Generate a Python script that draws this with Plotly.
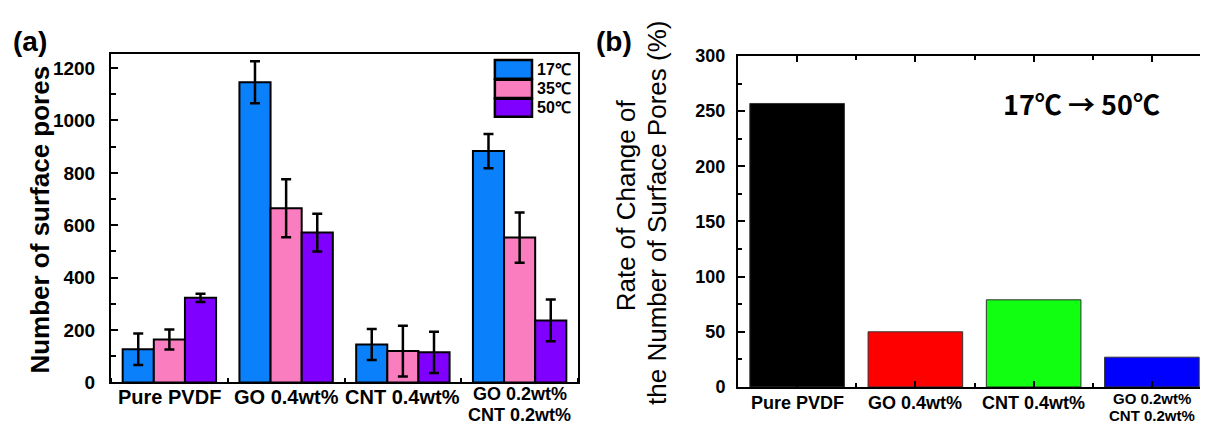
import plotly.graph_objects as go

# ---------------- data ----------------
categories = ["Pure PVDF", "GO 0.4wt%", "CNT 0.4wt%", "GO 0.2wt%<br>CNT 0.2wt%"]
temps = ["17℃", "35℃", "50℃"]
pores_17 = [127, 1146, 145, 883]
pores_35 = [164, 665, 120, 553]
pores_50 = [323, 572, 115, 237]
err_17 = [60, 80, 59, 65]
err_35 = [38, 111, 97, 96]
err_50 = [16, 72, 79, 80]
rate_change = [257, 50, 79, 27]

a_colors = ["#0A80FA", "#FA7EBF", "#8000FF"]
b_colors = ["#000000", "#FF0000", "#11FF11", "#0000FF"]

y_a_ticks = [0, 200, 400, 600, 800, 1000, 1200]
y_b_ticks = [0, 50, 100, 150, 200, 250, 300]

FONT = "Arial, Liberation Sans, sans-serif"
W, H = 1208, 428
xpos = list(range(len(categories)))

fig = go.Figure()

series = [pores_17, pores_35, pores_50]
errs = [err_17, err_35, err_50]
for name, vals, er, col in zip(temps, series, errs, a_colors):
    fig.add_trace(go.Bar(
        x=xpos, y=vals, name=name, xaxis="x", yaxis="y",
        marker=dict(color=col, line=dict(color="black", width=2)),
        error_y=dict(type="data", array=er, color="black", thickness=2.5, width=5),
        showlegend=False,
    ))

fig.add_trace(go.Bar(
    x=xpos, y=rate_change, xaxis="x2", yaxis="y2", width=0.8,
    marker=dict(color=b_colors, line=dict(color="#333333", width=1)),
    showlegend=False,
))

common_axis = dict(showgrid=False, zeroline=False, showline=True, linecolor="black",
                   linewidth=2)

fig.update_layout(
    width=W, height=H,
    margin=dict(l=0, r=0, t=0, b=0),
    paper_bgcolor="white", plot_bgcolor="white",
    barmode="group", bargap=0.2, bargroupgap=0,
    font=dict(family=FONT, color="black"),
    xaxis=dict(
        domain=[103/W, 570/W], anchor="y", range=[-0.5, 3.5],
        tickmode="array", tickvals=xpos, showticklabels=False, ticks="",
        minor=dict(tickmode="linear", tick0=0.5, dtick=1, ticks="inside", ticklen=4,
                   tickwidth=2, tickcolor="black"),
        mirror=True, **common_axis,
    ),
    yaxis=dict(
        domain=[1-383.3/H, 1-38.3/H], anchor="x", range=[0, 1252],
        tickmode="array", tickvals=y_a_ticks,
        ticks="inside", ticklen=7, tickwidth=2, tickcolor="black",
        ticklabelstandoff=10,
        tickfont=dict(family=FONT, size=19, weight="bold", color="black"),
        minor=dict(tickmode="linear", tick0=0, dtick=100, ticks="inside", ticklen=5,
                   tickwidth=2, tickcolor="black"),
        mirror=True, **common_axis,
    ),
    xaxis2=dict(
        domain=[730/W, 1203/W], anchor="y2", range=[-0.5, 3.5],
        tickmode="array", tickvals=xpos, showticklabels=False,
        ticks="inside", ticklen=6, tickwidth=2, tickcolor="black",
        minor=dict(tickmode="linear", tick0=0.5, dtick=1, ticks="inside", ticklen=4,
                   tickwidth=2, tickcolor="black"),
        mirror="allticks", **common_axis,
    ),
    yaxis2=dict(
        domain=[1-388/H, 1-40/H], anchor="x2", range=[0, 300],
        tickmode="array", tickvals=y_b_ticks,
        ticks="inside", ticklen=7, tickwidth=2, tickcolor="black",
        ticklabelstandoff=7,
        tickfont=dict(family=FONT, size=18, weight="bold", color="black"),
        minor=dict(tickmode="linear", tick0=0, dtick=25, ticks="inside", ticklen=4,
                   tickwidth=2, tickcolor="black"),
        mirror="allticks", **common_axis,
    ),
)

# category labels: single-line labels at full size; two-line label stacked tightly
# (size1, y1) for single line; (size2, y_first, dy) for two-line labels
label_cfg = [("x", 20, 399, 18, 395, 22), ("x2", 18, 405, 15, 400, 18.5)]
for xref, s1, y1, s2, y2, dy in label_cfg:
    for i, cat in enumerate(categories):
        lines = cat.split("<br>")
        if len(lines) == 1:
            pos, size = [y1], s1
        else:
            pos, size = [y2 + j*dy for j in range(len(lines))], s2
        for line, yy in zip(lines, pos):
            fig.add_annotation(xref=xref, yref="paper", x=xpos[i], y=1-yy/H,
                               text=line, showarrow=False, xanchor="center",
                               yanchor="middle",
                               font=dict(family=FONT, size=size, weight="bold",
                                         color="black"))

# custom legend for panel (a)
legend_rows = [(0.983, 0.926), (0.923, 0.867), (0.865, 0.810)]
for (top, bot), col, name in zip(legend_rows, a_colors, temps):
    fig.add_shape(type="rect", xref="x domain", yref="y domain",
                  x0=0.822, x1=0.9015, y0=bot, y1=top,
                  fillcolor=col, line=dict(color="black", width=2.5))
    fig.add_annotation(xref="x domain", yref="y domain", x=0.908, y=(top+bot)/2,
                       text=name, showarrow=False, xanchor="left", yanchor="middle",
                       font=dict(family=FONT, size=16, weight="bold", color="black"))

# panel labels and titles
fig.add_annotation(xref="paper", yref="paper", x=22/W, y=1-25/H, text="(a)",
                   showarrow=False, xanchor="center", yanchor="middle",
                   font=dict(family=FONT, size=28, weight="bold", color="black"))
fig.add_annotation(xref="paper", yref="paper", x=606/W, y=1-25/H, text="(b)",
                   showarrow=False, xanchor="center", yanchor="middle",
                   font=dict(family=FONT, size=28, weight="bold", color="black"))
fig.add_annotation(xref="paper", yref="paper", x=32/W, y=1-212/H,
                   text="Number of surface pores", textangle=-90, showarrow=False,
                   xanchor="center", yanchor="middle",
                   font=dict(family=FONT, size=26, weight="bold", color="black"))
fig.add_annotation(xref="paper", yref="paper", x=618/W, y=1-197/H,
                   text="Rate of Change of", textangle=-90, showarrow=False,
                   xanchor="center", yanchor="middle",
                   font=dict(family=FONT, size=26, color="black"))
fig.add_annotation(xref="paper", yref="paper", x=649/W, y=1-205/H,
                   text="the Number of Surface Pores (%)", textangle=-90, showarrow=False,
                   xanchor="center", yanchor="middle",
                   font=dict(family=FONT, size=26, color="black"))
fig.add_annotation(xref="paper", yref="paper", x=1073/W, y=1-90/H,
                   text="17℃ → 50℃", showarrow=False,
                   xanchor="center", yanchor="middle",
                   font=dict(family="Noto Sans CJK KR, sans-serif", size=27, weight="bold",
                             color="black"))

fig.write_html("out.html")
